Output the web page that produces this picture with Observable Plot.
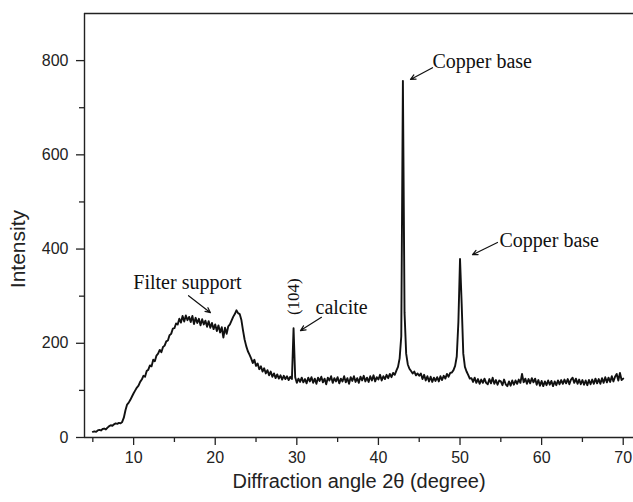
<!DOCTYPE html>
<html><head><meta charset="utf-8">
<script src="https://cdn.jsdelivr.net/npm/d3@7"></script>
<script src="https://cdn.jsdelivr.net/npm/@observablehq/plot@0.6"></script>
<style>body{margin:0;background:#fff} svg{display:block}</style>
</head><body><div id="chart"></div>
<script>
// XRD scan sampled every 0.2 degree from 5.0 to 70.0 (2θ)
const angleStart = 5.0;
const angleStep = 0.2;
const intensity = [
  12, 13, 12, 15, 16, 15, 18, 19, 17, 21,
  24, 26, 25, 28, 30, 29, 31, 30, 33, 42,
  58, 70, 74, 80, 87, 94, 100, 106, 110, 118,
  123, 131, 129, 141, 144, 153, 151, 165, 162, 174,
  178, 186, 181, 192, 195, 204, 206, 217, 220, 231,
  232, 242, 240, 252, 244, 258, 246, 259, 249, 256,
  245, 258, 241, 254, 243, 252, 238, 251, 240, 248,
  235, 247, 233, 243, 230, 240, 226, 238, 223, 234,
  212, 233, 220, 236, 240, 248, 256, 262, 270, 264,
  262, 250, 228, 208, 194, 183, 176, 168, 158, 165,
  152, 157, 145, 151, 140, 147, 136, 143, 132, 140,
  129, 136, 126, 134, 125, 132, 123, 131, 124, 130,
  122, 129, 124, 232, 128, 116, 125, 118, 127, 117,
  124, 115, 127, 119, 128, 116, 125, 114, 127, 120,
  129, 117, 125, 113, 127, 121, 130, 116, 126, 119,
  128, 115, 125, 119, 130, 117, 126, 114, 128, 120,
  130, 118, 126, 116, 129, 121, 131, 119, 127, 118,
  130, 121, 132, 119, 128, 123, 133, 121, 130, 124,
  133, 126, 135, 128, 137, 133, 142, 150, 168, 215,
  757, 265, 178, 155, 146, 141, 136, 140, 132, 136,
  131, 136, 124, 133, 121, 130, 119, 129, 118, 127,
  120, 128, 119, 130, 122, 131, 125, 135, 129, 137,
  138, 143, 152, 172, 245, 379, 285, 178, 150, 140,
  133, 125, 126, 118, 127, 116, 124, 114, 123, 116,
  125, 116, 113, 124, 115, 127, 114, 122, 112, 121,
  119, 111, 123, 113, 109, 119, 110, 121, 112, 121,
  114, 123, 116, 135, 117, 125, 114, 124, 115, 126,
  117, 125, 112, 122, 110, 120, 109, 119, 111, 121,
  112, 120, 109, 119, 111, 121, 113, 122, 114, 123,
  115, 124, 113, 123, 127, 116, 125, 114, 123, 113,
  122, 112, 121, 111, 122, 113, 123, 114, 125, 115,
  124, 114, 126, 116, 128, 117, 127, 118, 130, 119,
  129, 135, 121, 137, 122, 125
];
const xMajorTicks = [10, 20, 30, 40, 50, 60, 70];
const xMinorTicks = [5, 15, 25, 35, 45, 55, 65];
const yMajorTicks = [0, 200, 400, 600, 800];
const yMinorTicks = [100, 300, 500, 700];
const xTitle = "Diffraction angle 2θ (degree)";
const yTitle = "Intensity";

// annotations
const centeredLabels = [{text: "Filter support", x: 16.60, y: 329}];
const leftLabels = [
  {text: "calcite", x: 32.29, y: 276},
  {text: "Copper base", x: 46.63, y: 798},
  {text: "Copper base", x: 54.84, y: 418}
];
const planeLabel = [{text: "(104)", x: 29.59, y: 299}];
const arrows = [
  {x1: 16.73, y1: 301, x2: 19.42, y2: 265},
  {x1: 33.02, y1: 255, x2: 30.45, y2: 227},
  {x1: 46.63, y1: 785, x2: 43.93, y2: 760},
  {x1: 54.59, y1: 414, x2: 51.53, y2: 388}
];

const data = intensity.map((v, i) => ({angle: +(angleStart + i * angleStep).toFixed(1), intensity: v}));

const xDomain = [3.98, 71.26];
const yDomain = [0, 900];
const axisColor = "#222";
const serif = "'Liberation Serif', 'Times New Roman', serif";

const chart = Plot.plot({
  width: 633,
  height: 502,
  marginLeft: 84,
  marginRight: 0,
  marginTop: 13,
  marginBottom: 65,
  style: {fontFamily: "'Liberation Sans', Arial, sans-serif", fontSize: "16px", color: "#222", background: "#fff"},
  x: {domain: xDomain},
  y: {domain: yDomain},
  marks: [
    Plot.axisX({ticks: xMinorTicks, tickSize: 5, tickFormat: () => "", label: null, stroke: axisColor, strokeWidth: 1.3}),
    Plot.axisX({ticks: xMajorTicks, tickSize: 8, tickPadding: 6, label: null, stroke: axisColor, strokeWidth: 1.3, fontSize: 16}),
    Plot.axisY({ticks: yMinorTicks, tickSize: 5, tickFormat: () => "", label: null, stroke: axisColor, strokeWidth: 1.3}),
    Plot.axisY({ticks: yMajorTicks, tickSize: 8, tickPadding: 8, label: null, stroke: axisColor, strokeWidth: 1.3, fontSize: 16}),
    Plot.ruleX([xDomain[0]], {stroke: axisColor, strokeWidth: 1.4}),
    Plot.ruleY([yDomain[0]], {stroke: axisColor, strokeWidth: 1.4}),
    Plot.ruleY([yDomain[1]], {stroke: axisColor, strokeWidth: 1.4}),
    Plot.line(data, {x: "angle", y: "intensity", stroke: "#111", strokeWidth: 1.9, strokeLinejoin: "round"}),
    Plot.text(centeredLabels, {x: "x", y: "y", text: "text", textAnchor: "middle", fontFamily: serif, fontSize: 20, fill: "#111"}),
    Plot.text(leftLabels, {x: "x", y: "y", text: "text", textAnchor: "start", fontFamily: serif, fontSize: 20, fill: "#111"}),
    Plot.text(planeLabel, {x: "x", y: "y", text: "text", rotate: -90, fontFamily: serif, fontSize: 17, fill: "#111"}),
    Plot.arrow(arrows, {x1: "x1", y1: "y1", x2: "x2", y2: "y2", stroke: "#111", strokeWidth: 1.2, headLength: 7, headAngle: 50}),
    Plot.text([xTitle], {text: d => d, frameAnchor: "bottom", dy: 50, fontSize: 20, fill: "#222"}),
    Plot.text([yTitle], {text: d => d, x: [xDomain[0]], y: [400], dx: -66, rotate: -90, fontSize: 21, fill: "#222"})
  ]
});
document.getElementById("chart").appendChild(chart);
</script>
</body></html>
